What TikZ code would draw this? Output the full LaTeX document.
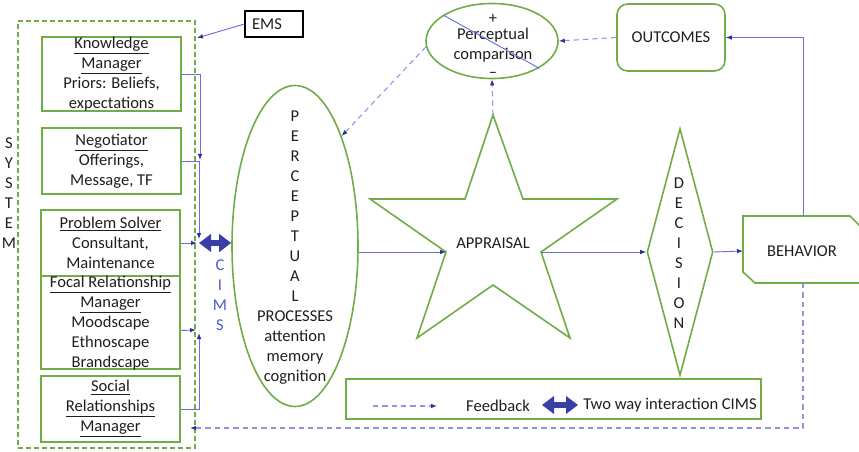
\documentclass[tikz,border=0pt]{standalone}
\usepackage{fontspec}
\setmainfont{Carlito}
\usetikzlibrary{arrows.meta,shapes.geometric,fit}
\definecolor{grn}{HTML}{70AD47}
\definecolor{lblue}{HTML}{6870DC}
\definecolor{dblue}{HTML}{2E3399}
\definecolor{fblue}{HTML}{8F93E6}
\definecolor{cblue}{HTML}{3A3FA8}
\definecolor{tblue}{HTML}{4A5CC8}
\definecolor{txt}{HTML}{1E1E1E}
\begin{document}
\begin{tikzpicture}[x=0.75pt,y=-0.75pt,
  font=\fontsize{12.4}{15}\selectfont, text=txt,
  gbox/.style={draw=grn, line width=1.2pt, inner sep=0pt},
  conn/.style={draw=lblue, line width=0.7pt, -{Latex[length=4.5pt,width=3.5pt,color=dblue]}},
  fb/.style={draw=fblue, line width=0.8pt, dash pattern=on 4pt off 3pt, -{Latex[length=4.5pt,width=3.5pt,color=dblue]}},
  twoway/.style={draw=cblue, line width=4pt, {Triangle[length=9pt,width=13pt]}-{Triangle[length=9pt,width=13pt]}},
  lbl/.style={align=center, inner sep=0pt},
]
\useasboundingbox (0,0) rectangle (859,452);

% SYSTEM
\node[draw=grn, line width=1pt, dash pattern=on 3.5pt off 2.5pt, inner sep=0pt, fit={(18,21)(195,448)}] (sys) {};
\node[lbl] (systxt) at (9,193) {S\\Y\\S\\T\\E\\M};

% EMS
\node[draw=black, line width=0.8pt, inner sep=0pt, fit={(245,11)(303,37)}] (ems) {};
\node[lbl] (emst) at (267,24) {EMS};

% left boxes
\node[gbox, fit={(42,37)(181,111)}] (km) {};
\node[lbl] (kmt) at (km.center) {\underline{Knowledge}\\\underline{Manager}\\Priors: Beliefs,\\expectations};
\node[gbox, fit={(42,128)(181,194)}] (neg) {};
\node[lbl] (negt) at (neg.center) {\underline{Negotiator}\\Offerings,\\Message, TF};
\node[gbox, fit={(41,210)(180,276)}] (ps) {};
\node[lbl] (pst) at (ps.center) {\underline{Problem Solver}\\Consultant,\\Maintenance};
\node[gbox, fit={(41,276)(180,369)}] (frm) {};
\node[lbl] (frmt) at ([yshift=-0.75pt]frm.center) {\underline{Focal Relationship}\\\underline{Manager}\\Moodscape\\Ethnoscape\\Brandscape};
\node[gbox, fit={(41,376)(180,442)}] (srm) {};
\node[lbl] (srmt) at (srm.center) {\underline{Social}\\\underline{Relationships}\\\underline{Manager}};

% perceptual processes
\node[gbox, ellipse, minimum width=126*0.75pt, minimum height=321*0.75pt] (perc) at (295,246) {};
\node[lbl] (perct) at (295,247.5) {P\\E\\R\\C\\E\\P\\T\\U\\A\\L\\PROCESSES\\attention\\memory\\cognition};

% CIMS label
\node[lbl, text=tblue] (cimst) at (220,295) {C\\I\\M\\S};

% perceptual comparison
\node[gbox, ellipse, minimum width=132*0.75pt, minimum height=75*0.75pt] (pc) at (492,41) {};
\node[lbl] (plus) at (493,19) {+};
\node[lbl] (pct) at (493,45) {Perceptual\\comparison};
\node[lbl] (minus) at (493,75) {–};

% outcomes
\node[gbox, rounded corners=8pt, fit={(617,4)(725,71)}] (out) {};
\node[lbl] (outt) at (out.center) {OUTCOMES};

% star
\coordinate (o1) at (493,115);
\coordinate (i1) at (523,199);
\coordinate (o2) at (617,199);
\coordinate (i2) at (541,252);
\coordinate (o3) at (570,338);
\coordinate (i3) at (493,285);
\coordinate (o4) at (417,338);
\coordinate (i4) at (446,252);
\coordinate (o5) at (370,199);
\coordinate (i5) at (465,199);
\draw[grn, line width=1.2pt, line join=miter] (o1)--(i1)--(o2)--(i2)--(o3)--(i3)--(o4)--(i4)--(o5)--(i5)--cycle;
\node[lbl] (appr) at (493,243) {APPRAISAL};

% decision
\node[gbox, diamond, minimum width=66*0.75pt, minimum height=247*0.75pt] (dec) at (680,252) {};
\node[lbl] (dect) at (679,253) {D\\E\\C\\I\\S\\I\\O\\N};

% behavior
\coordinate (bh1) at (743,216);
\coordinate (bh2) at (850,216);
\coordinate (bh3) at (872,238);
\coordinate (bh4) at (872,283);
\coordinate (bh5) at (755,283);
\coordinate (bh6) at (743,272);
\draw[grn, line width=1.2pt] (bh1)--(bh2)--(bh3)--(bh4)--(bh5)--(bh6)--cycle;
\node[lbl] (beh) at (802,251) {BEHAVIOR};
\coordinate (behL) at (743,251);
\coordinate (behT) at (803,216);
\coordinate (behB) at (803,283);

% legend
\node[gbox, fit={(346,379)(761,419)}] (leg) {};
\coordinate (legA) at (373,406);
\coordinate (legB) at (437,406);
\draw[fb] (legA) -- (legB);
\node[lbl] (legfb) at (498,406) {Feedback};
\coordinate (legC) at (542,405);
\coordinate (legD) at (578,405);
\draw[twoway] (legC) -- (legD);
\node[lbl] (legtw) at (670,405) {Two way interaction CIMS};

% connectors on the left
\coordinate (emsEnd) at (197,38);
\draw[conn] (ems.west) -- (emsEnd);
\coordinate (kmEnd) at (200,160);
\draw[conn] (km.east) -| (kmEnd);
\coordinate (negEnd) at (199,239);
\draw[conn] (neg.east) -| (negEnd);
\coordinate (psEnd) at (197,243);
\draw[conn] (ps.east) -- (psEnd);
\coordinate (frmEnd) at (196,330);
\draw[conn] ([yshift=-6pt]frm.east) -- (frmEnd);
\coordinate (srmEnd) at (199,333);
\draw[conn] (srm.east) -| (srmEnd);

% CIMS two way
\coordinate (cimsL) at (199,243);
\draw[twoway] (cimsL) -- (perc.west |- cimsL);

% main flow
\draw[conn] (perc.east |- i4) -- (i4);
\draw[conn] (i2) -- (dec.west);
\draw[conn] (dec.east) -- (behL);
\draw[conn] (behT) |- (out.east);

% feedback
\draw[fb] (out.west) -- (pc.east);
\draw[fb] (pc.185) -- (perc.67);
\draw[fb] (o1) -- (pc.south);
\coordinate (fbEnd) at (190,428);
\draw[fb] (behB) |- (fbEnd);

% stray line across comparison ellipse
\draw[lblue, line width=0.7pt] (pc.152) -- (pc.-30);
\end{tikzpicture}
\end{document}
